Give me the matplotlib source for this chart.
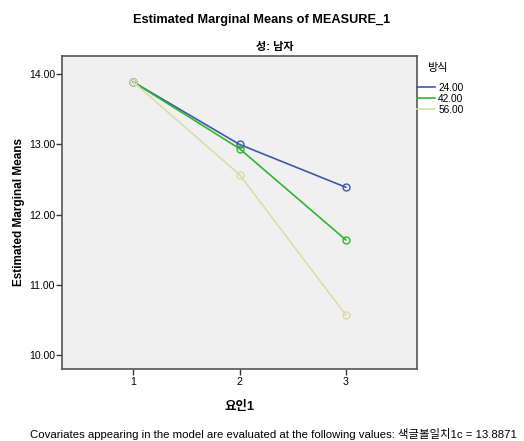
import matplotlib.pyplot as plt

plt.rcParams['font.family'] = ['Liberation Sans', 'Noto Sans CJK KR', 'DejaVu Sans']

# data
levels = [1, 2, 3]
groups = ['24.00', '42.00', '56.00']
means = {
    '24.00': [13.89, 13.00, 12.39],
    '42.00': [13.89, 12.94, 11.64],
    '56.00': [13.89, 12.57, 10.57],
}
colors = ['#3e58ac', '#2eb82e', '#dcdca8']
yticks = [10, 11, 12, 13, 14]

fig = plt.figure(figsize=(5.24, 4.41), dpi=100)
ax = fig.add_axes([62/524, 1-369/441, (417-62)/524, (369-56)/441])
ax.set_facecolor('#f0f0f0')

for g, c in zip(groups, colors):
    ax.plot(levels, means[g], '-', color=c, lw=1.2, marker='o', ms=5,
            mfc='none', mec=c, mew=1.0, label=g)

ax.set_xlim(0.33, 3.67)
ax.set_ylim(9.8, 14.26)
ax.set_xticks(levels)
ax.set_yticks(yticks)
ax.set_yticklabels(['%.2f' % v for v in yticks])
ax.tick_params(labelsize=7.6, length=4, width=1, color='#333333', pad=1)
ax.tick_params(axis='x', pad=2)
for s in ax.spines.values():
    s.set_color('#555555')
    s.set_linewidth(1.2)

ax.set_xlabel('요인1', fontsize=9, fontweight='bold', labelpad=10)
ax.set_ylabel('Estimated Marginal Means', fontsize=8.5, fontweight='bold', labelpad=3)

fig.text(262/524, 1-20/441, 'Estimated Marginal Means of MEASURE_1', ha='center', va='center',
         fontsize=9.2, fontweight='bold')
fig.text(275/524, 1-47/441, '성: 남자', ha='center', va='center', fontsize=8, fontweight='bold')

# legend
fig.text(437.5/524, 1-68/441, '방식', ha='center', va='center', fontsize=8)
leg = ax.legend(loc='upper left', bbox_to_anchor=(1.0, 0.915), frameon=False,
                fontsize=7.3, handlelength=1.8, handletextpad=0.3,
                labelspacing=0.12, borderaxespad=0.0, borderpad=0.0)
for h in leg.get_lines():
    h.set_marker('')

fig.text(30/524, 1-434/441, 'Covariates appearing in the model are evaluated at the following values: '
         '색글볼일치1c = 13.8871', ha='left', va='center', fontsize=8.2)

fig.savefig('out.png', dpi=100)
